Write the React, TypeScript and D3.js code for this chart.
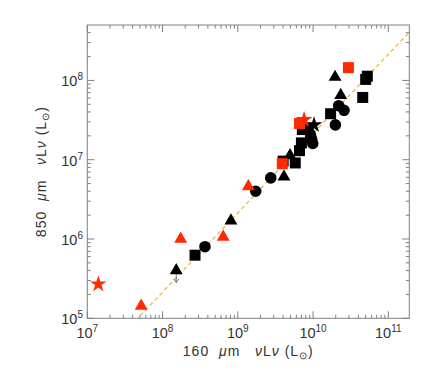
import React from 'react';
import * as d3 from 'd3';

// 160um vs 850um luminosities (L_sun)
const blackCircleX = [3.66e8, 1.73e9, 2.74e9, 9.3e9, 9.6e9, 9.9e9, 1.98e10, 2.19e10, 2.58e10];
const blackCircleY = [8.0e5, 4.0e6, 5.9e6, 1.98e7, 1.8e7, 1.6e7, 2.75e7, 4.8e7, 4.2e7];

const blackSquareX = [2.7e8, 4.0e9, 5.8e9, 6.6e9, 7.0e9, 7.2e9, 1.71e10, 4.57e10, 5.0e10, 5.26e10];
const blackSquareY = [6.25e5, 9.6e6, 9.1e6, 1.3e7, 1.63e7, 2.4e7, 3.8e7, 6.1e7, 1.03e8, 1.13e8];

const blackTriangleX = [1.52e8, 8.1e8, 4.1e9, 4.94e9, 9.0e9, 2.33e10, 1.96e10];
const blackTriangleY = [4.0e5, 1.7e6, 6.1e6, 1.13e7, 2.4e7, 6.5e7, 1.1e8];

const blackStarX = [1.03e10];
const blackStarY = [2.75e7];

const redTriangleX = [5.2e7, 1.74e8, 6.4e8, 1.38e9];
const redTriangleY = [1.43e5, 1.0e6, 1.06e6, 4.6e6];

const redSquareX = [3.9e9, 6.6e9, 2.95e10];
const redSquareY = [8.9e6, 2.86e7, 1.45e8];

const redStarX = [1.4e7, 7.6e9];
const redStarY = [2.7e5, 3.2e7];

// upper limits (index into black triangles)
const upperLimitIdx = [0];

const fitNorm = Math.pow(10, -2.67); // y = fitNorm * x

const xMajor = [1e7, 1e8, 1e9, 1e10, 1e11];
const yMajor = [1e5, 1e6, 1e7, 1e8];

const RED = '#ff2a00';
const AXIS = '#808080';
const TEXT = '#333';

const left = 87.3, right = 409.3, top = 25, bottom = 318.3;

const x = d3.scaleLog().domain([1e7, 1.9e11]).range([left, right]);
const y = d3.scaleLog().domain([1e5, 5e8]).range([bottom, top]);

const zip = (xs: number[], ys: number[]) => xs.map((v, i) => [v, ys[i]] as [number, number]);

const minorTicks = (dom: number[]) => {
  const out: number[] = [];
  const lo = Math.floor(Math.log10(dom[0]));
  const hi = Math.ceil(Math.log10(dom[1]));
  for (let e = lo; e < hi; e++) {
    for (let m = 2; m <= 9; m++) {
      const v = m * Math.pow(10, e);
      if (v > dom[0] && v < dom[1]) out.push(v);
    }
  }
  return out;
};

const sym = (type: d3.SymbolType, size: number) => d3.symbol().type(type).size(size)() as string;

const shapes = {
  circle: sym(d3.symbolCircle, 105),
  square: sym(d3.symbolSquare, 121),
  triangle: sym(d3.symbolTriangle, 72),
  star: sym(d3.symbolStar, 85),
};

const Pow = ({ exp }: { exp: number }) => (
  <>
    10<tspan fontSize={10} dy={-6}>{exp}</tspan>
  </>
);

const Title = ({ band }: { band: string }) => (
  <>
    {band}{'\u00a0\u00a0'}<tspan fontStyle="italic">μ</tspan>m{'\u00a0\u00a0\u00a0'}
    <tspan fontStyle="italic">ν</tspan>L<tspan fontStyle="italic">ν</tspan>{'\u00a0'}(L
    <tspan fontSize={10} dy={3}>⊙</tspan>
    <tspan dy={-3}>)</tspan>
  </>
);

const App = () => {
  const xMinor = minorTicks(x.domain());
  const yMinor = minorTicks(y.domain());
  const fitX = x.domain();
  const series: { pts: [number, number][]; d: string; fill: string }[] = [
    { pts: zip(blackCircleX, blackCircleY), d: shapes.circle, fill: '#000' },
    { pts: zip(blackSquareX, blackSquareY), d: shapes.square, fill: '#000' },
    { pts: zip(blackTriangleX, blackTriangleY), d: shapes.triangle, fill: '#000' },
    { pts: zip(blackStarX, blackStarY), d: shapes.star, fill: '#000' },
    { pts: zip(redTriangleX, redTriangleY), d: shapes.triangle, fill: RED },
    { pts: zip(redSquareX, redSquareY), d: shapes.square, fill: RED },
    { pts: zip(redStarX, redStarY), d: shapes.star, fill: RED },
  ];

  return (
    <svg
      width={436}
      height={371}
      style={{ position: 'absolute', left: 0, top: 0, background: '#fff' }}
      fontFamily="'Liberation Sans', Arial, sans-serif"
    >
      <defs>
        <clipPath id="plot">
          <rect x={left} y={top} width={right - left} height={bottom - top} />
        </clipPath>
      </defs>

      {/* frame */}
      <rect x={left} y={top} width={right - left} height={bottom - top} fill="none" stroke={AXIS} strokeWidth={1} />

      {/* x ticks, bottom and top, pointing inward */}
      {xMajor.map((v) => (
        <g key={'xM' + v}>
          <line x1={x(v)} x2={x(v)} y1={bottom} y2={bottom - 7} stroke={AXIS} />
          <line x1={x(v)} x2={x(v)} y1={top} y2={top + 7} stroke={AXIS} />
          <text x={x(v)} y={338} textAnchor="middle" fontSize={14.5} fill={TEXT}>
            <Pow exp={Math.round(Math.log10(v))} />
          </text>
        </g>
      ))}
      {xMinor.map((v) => (
        <g key={'xm' + v}>
          <line x1={x(v)} x2={x(v)} y1={bottom} y2={bottom - 3.5} stroke={AXIS} />
          <line x1={x(v)} x2={x(v)} y1={top} y2={top + 3.5} stroke={AXIS} />
        </g>
      ))}

      {/* y ticks, left and right */}
      {yMajor.map((v) => (
        <g key={'yM' + v}>
          <line x1={left} x2={left + 7} y1={y(v)} y2={y(v)} stroke={AXIS} />
          <line x1={right} x2={right - 7} y1={y(v)} y2={y(v)} stroke={AXIS} />
          <text x={83} y={y(v) + 6} textAnchor="end" fontSize={14.5} fill={TEXT}>
            <Pow exp={Math.round(Math.log10(v))} />
          </text>
        </g>
      ))}
      {yMinor.map((v) => (
        <g key={'ym' + v}>
          <line x1={left} x2={left + 3.5} y1={y(v)} y2={y(v)} stroke={AXIS} />
          <line x1={right} x2={right - 3.5} y1={y(v)} y2={y(v)} stroke={AXIS} />
        </g>
      ))}

      {/* fit line */}
      <g clipPath="url(#plot)">
        <line
          x1={x(fitX[0])}
          y1={y(fitX[0] * fitNorm)}
          x2={x(fitX[1])}
          y2={y(fitX[1] * fitNorm)}
          stroke="#f5b030"
          strokeWidth={1.2}
          strokeDasharray="4,3"
        />
      </g>

      {/* upper limit arrows */}
      {upperLimitIdx.map((i) => {
        const cx = x(blackTriangleX[i]);
        const cy = y(blackTriangleY[i]);
        return (
          <g key={'ul' + i} stroke="#555" strokeWidth={0.8} fill="none">
            <line x1={cx} x2={cx} y1={cy} y2={cy + 12} />
            <polyline points={`${cx - 2.5},${cy + 8.5} ${cx},${cy + 12} ${cx + 2.5},${cy + 8.5}`} />
          </g>
        );
      })}

      {/* points */}
      {series.map((s, si) =>
        s.pts.map(([vx, vy], i) => (
          <path
            key={si + '-' + i}
            d={s.d}
            transform={`translate(${x(vx)},${y(vy)})`}
            fill={s.fill}
          />
        ))
      )}

      {/* axis titles */}
      <text x={(left + right) / 2} y={356} textAnchor="middle" fontSize={14} letterSpacing={1} fill={TEXT}>
        <Title band="160" />
      </text>
      <text
        transform={`translate(46,${(top + bottom) / 2}) rotate(-90)`}
        textAnchor="middle"
        fontSize={14}
        letterSpacing={1}
        fill={TEXT}
      >
        <Title band="850" />
      </text>
    </svg>
  );
};

export default App;
